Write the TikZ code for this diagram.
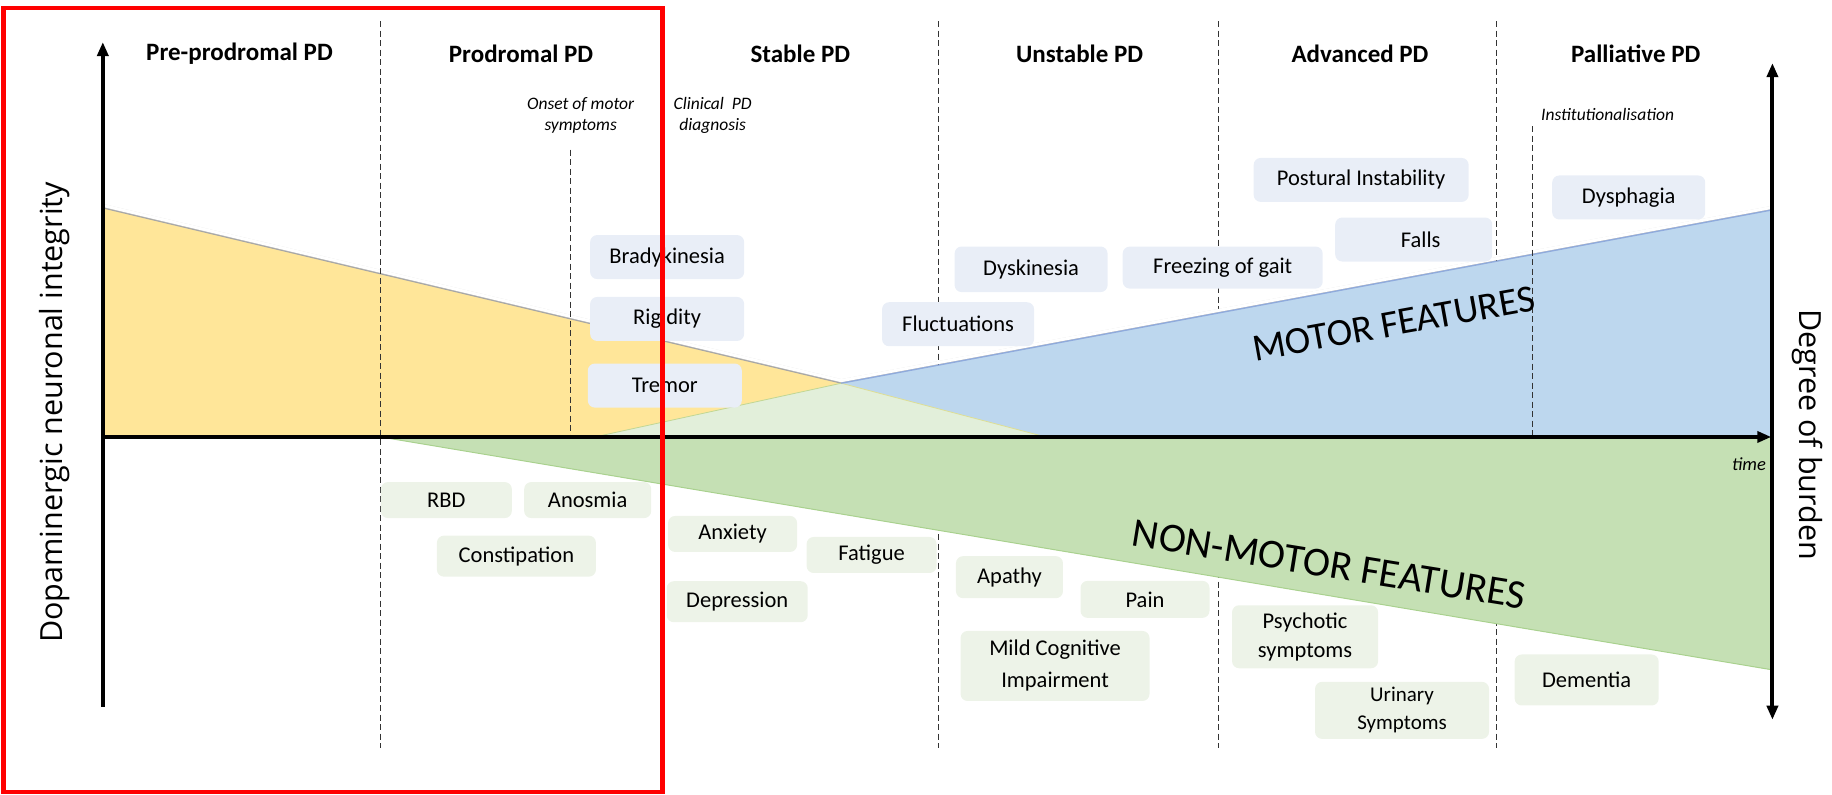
\documentclass[tikz,border=0pt]{standalone}
\usepackage{fontspec}
\setmainfont{Carlito}
\newfontfamily\axfont{Open Sans}
\usetikzlibrary{arrows.meta}
\definecolor{yel}{HTML}{FFE699}
\definecolor{blu}{HTML}{BDD7EE}
\definecolor{pgreen}{HTML}{E2EFDA}
\definecolor{grn}{HTML}{C5E0B4}
\definecolor{mfill}{HTML}{E9EEF7}
\definecolor{nfill}{HTML}{EDF3E8}
\definecolor{bedge}{HTML}{8FAADC}
\definecolor{gedge}{HTML}{A9D18E}
\tikzset{
  sep/.style={draw=black!80, line width=0.9pt, dash pattern=on 6pt off 3.5pt},
  axisline/.style={line width=4pt, draw=black},
  head/.style={font=\fontsize{25}{30}\selectfont\bfseries, anchor=center},
  ital/.style={font=\fontsize{17.5}{21}\selectfont\itshape, align=center},
  mbox/.style={fill=mfill, rounded corners=7pt, inner sep=0pt, align=center, font=\fontsize{22.5}{30}\selectfont},
  nbox/.style={fill=nfill, rounded corners=7pt, inner sep=0pt, align=center, font=\fontsize{22.5}{30}\selectfont},
  axlab/.style={font=\axfont\fontsize{30.5}{36}\selectfont},
  feat/.style={font=\fontsize{38.5}{44}\selectfont},
  shadow/.style={black, line width=#1, opacity=0.12},
}
\begin{document}
\begin{tikzpicture}[x=1.1684pt,y=-1.1684pt]
\useasboundingbox (0,0) rectangle (1568,680);
% stage separators (behind regions)
\draw[sep] (803,18) -- (803,640);
\draw[sep] (1043,18) -- (1043,640);
\draw[sep] (1281,18) -- (1281,640);
% regions
\coordinate (Y1) at (88,178);
\coordinate (Y2) at (88,374);
\coordinate (Y3) at (895,374);
\coordinate (B1) at (509,374);
\coordinate (B2) at (1515,180);
\coordinate (B3) at (1515,374);
\coordinate (X) at (720,328);
\coordinate (G1) at (326,374);
\coordinate (G2) at (1515,374);
\coordinate (G3) at (1515,573);
% soft shadow above the upper edges
\draw[shadow=8pt] (Y1) -- (X) -- (B2);
\draw[shadow=5pt] (Y1) -- (X) -- (B2);
\draw[white, line width=3pt] ([yshift=2.6pt]Y1) -- ([yshift=2.6pt]X) -- ([yshift=2.6pt]B2);
\fill[yel] (Y1) -- (X) -- (Y3) -- (Y2) -- cycle;
\fill[blu] (B1) -- (X) -- (B2) -- (B3) -- cycle;
\fill[pgreen] (B1) -- (X) -- (Y3) -- cycle;
\fill[grn] (G1) -- (G2) -- (G3) -- cycle;
\draw[black!35, line width=1pt] (Y1) -- (X);
\draw[yel!60!gedge, line width=0.8pt] (X) -- (Y3);
\draw[gedge!70!yel, line width=0.8pt] (B1) -- (X);
\draw[bedge, line width=1.3pt] (X) -- (B2);
\draw[gedge, line width=1pt] (G1) -- (G3);
% separators drawn on top
\draw[sep] (326,18) -- (326,640);
\draw[sep] (566,18) -- (566,640);
\draw[sep] (488,128) -- (488,374);
\draw[sep] (1312,108) -- (1312,374);
% axes
\draw[axisline, -{Triangle[length=14pt, width=11pt]}] (88,605) -- (88,36);
\draw[axisline, -{Triangle[length=14pt, width=11pt]}] (88,374) -- (1516,374);
\draw[axisline, {Triangle[length=14pt, width=11pt]}-{Triangle[length=14pt, width=11pt]}] (1517,54) -- (1517,616);
% headings
\node[head] (h1) at (205,46) {Pre-prodromal PD};
\node[head] (h2) at (446,46) {Prodromal PD};
\node[head] (h3) at (685,46) {Stable PD};
\node[head] (h4) at (924,46) {Unstable PD};
\node[head] (h5) at (1164,46) {Advanced PD};
\node[head] (h6) at (1400,46) {Palliative PD};
% italic labels
\node[ital] (onset) at (497,99) {Onset of motor\\symptoms};
\node[ital] (diag) at (610,99) {Clinical\ \ PD\\diagnosis};
\node[ital, anchor=west] (inst) at (1316,98) {Institutionalisation};
\node[ital, font=\fontsize{18.5}{22}\selectfont\itshape] (time) at (1497,397) {time};
% axis labels
\node[axlab, rotate=90] (ylab) at (47,353) {Dopaminergic neuronal integrity};
\node[axlab, rotate=-90] (rlab) at (1547,372) {Degree of burden};
% motor boxes
\node[mbox, minimum width=154pt, minimum height=44pt] (brady) at (571,220) {Bradykinesia};
\node[mbox, minimum width=154pt, minimum height=44pt] (rig) at (571,273) {Rigidity};
\node[mbox, minimum width=154pt, minimum height=44pt] (trem) at (569,330) {Tremor};
\node[mbox, minimum width=152pt, minimum height=44pt] (fluct) at (820,277.5) {Fluctuations};
\node[mbox, minimum width=153pt, minimum height=45.6pt] (dysk) at (882.5,230.5) {Dyskinesia};
\node[mbox, minimum width=200pt, minimum height=42pt] (fog) at (1046.5,229) {Freezing of gait};
\node[mbox, minimum width=215pt, minimum height=44pt] (post) at (1165,154) {Postural Instability};
\node[mbox, minimum width=157pt, minimum height=44pt] (falls) at (1210,205) {\hspace*{14pt}Falls};
\node[mbox, minimum width=153pt, minimum height=44pt] (dysph) at (1394,169) {Dysphagia};
% non-motor boxes
\node[nbox, minimum width=131pt, minimum height=36pt] (rbd) at (382,428) {RBD};
\node[nbox, minimum width=127pt, minimum height=36pt] (anos) at (503,428) {Anosmia};
\node[nbox, minimum width=159pt, minimum height=41pt] (const) at (442,476) {Constipation};
\node[nbox, minimum width=129pt, minimum height=36pt] (anx) at (627,457) {Anxiety};
\node[nbox, minimum width=130pt, minimum height=36pt] (fat) at (746,475) {Fatigue};
\node[nbox, minimum width=141pt, minimum height=41pt] (dep) at (631,515) {Depression};
\node[nbox, minimum width=107pt, minimum height=42pt] (apa) at (864,494) {Apathy};
\node[nbox, minimum width=129pt, minimum height=37pt] (pain) at (980,513) {Pain};
\node[nbox, minimum width=189pt, minimum height=70pt, font=\fontsize{22.5}{32}\selectfont] (mci) at (903,570) {Mild Cognitive\\Impairment};
\node[nbox, minimum width=146pt, minimum height=63pt, font=\fontsize{22.5}{29}\selectfont] (psy) at (1117,545) {Psychotic\\symptoms};
\node[nbox, minimum width=174pt, minimum height=57pt, font=\fontsize{21}{28}\selectfont] (uri) at (1200,608) {Urinary\\Symptoms};
\node[nbox, minimum width=144pt, minimum height=51pt] (dem) at (1358,582) {Dementia};
% feature labels
\node[feat, rotate=10.2] (motor) at (1193,277) {MOTOR FEATURES};
\node[feat, font=\fontsize{41}{46}\selectfont, rotate=-9.2] (nonmotor) at (1137.5,483) {NON-MOTOR FEATURES};
% red frame
\draw[red, line width=4.5pt] (3,7) rectangle (567,678);
\end{tikzpicture}
\end{document}
